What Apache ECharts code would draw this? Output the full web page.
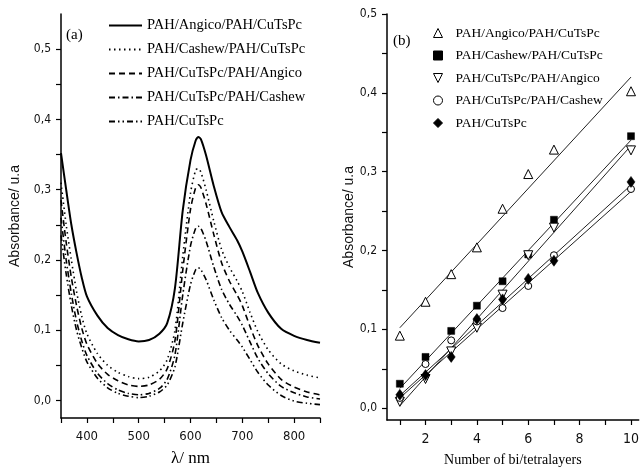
<!DOCTYPE html>
<html><head><meta charset="utf-8">
<script src="https://cdn.jsdelivr.net/npm/echarts@6/dist/echarts.min.js"></script>
<style>html,body{margin:0;padding:0;background:#fff}#c{width:642px;height:472px}</style>
</head><body><div id="c"></div>
<script>
// ---- Panel (a): UV-vis spectra ----
const wavelengths = [350,360,370,380,390,400,420,440,460,480,500,520,540,555,570,585,600,610,615,620,630,645,660,675,690,700,715,730,750,775,800,825,850];
const specAngicoPAH = [0.352,0.300,0.250,0.210,0.175,0.148,0.121,0.103,0.093,0.087,0.084,0.086,0.095,0.110,0.160,0.270,0.342,0.370,0.375,0.372,0.349,0.305,0.268,0.247,0.228,0.212,0.183,0.153,0.125,0.102,0.092,0.086,0.082];
const specCashewPAH = [0.310,0.250,0.200,0.155,0.120,0.095,0.067,0.050,0.040,0.034,0.031,0.033,0.042,0.058,0.100,0.205,0.295,0.328,0.330,0.325,0.300,0.255,0.215,0.190,0.170,0.155,0.125,0.098,0.072,0.052,0.042,0.036,0.032];
const specCuAngico = [0.285,0.225,0.175,0.135,0.103,0.080,0.053,0.037,0.028,0.022,0.020,0.022,0.030,0.045,0.085,0.185,0.272,0.303,0.307,0.303,0.280,0.236,0.196,0.170,0.150,0.135,0.105,0.078,0.052,0.030,0.019,0.012,0.008];
const specCuCashew = [0.260,0.200,0.152,0.113,0.085,0.064,0.039,0.024,0.015,0.010,0.008,0.010,0.017,0.030,0.065,0.150,0.220,0.245,0.248,0.245,0.227,0.190,0.158,0.137,0.120,0.107,0.083,0.060,0.038,0.020,0.011,0.005,0.002];
const specCuTsPc = [0.235,0.180,0.135,0.100,0.075,0.055,0.032,0.018,0.010,0.006,0.004,0.006,0.012,0.022,0.048,0.110,0.165,0.186,0.189,0.186,0.172,0.143,0.118,0.100,0.086,0.076,0.058,0.040,0.022,0.007,-0.001,-0.004,-0.006];
const specNames = ['PAH/Angico/PAH/CuTsPc','PAH/Cashew/PAH/CuTsPc','PAH/CuTsPc/PAH/Angico','PAH/CuTsPc/PAH/Cashew','PAH/CuTsPc'];
const xTicksA = [350,400,450,500,550,600,650,700,750,800,850];
const xLabelsA = [400,500,600,700,800];
const yTicksA = [0,0.05,0.1,0.15,0.2,0.25,0.3,0.35,0.4,0.45,0.5];
const yLabelsA = [0,0.1,0.2,0.3,0.4,0.5];

// ---- Panel (b): absorbance vs number of layers ----
const layers = [1,2,3,4,5,6,7,10];
const absAngicoPAH = [0.092,0.135,0.170,0.204,0.253,0.297,0.328,0.402];
const absCashewPAH = [0.031,0.065,0.098,0.130,0.161,0.195,0.239,0.345];
const absCuAngico = [0.008,0.037,0.072,0.102,0.144,0.194,0.229,0.327];
const absCuCashew = [0.013,0.056,0.086,0.110,0.127,0.155,0.194,0.278];
const absCuTsPc = [0.017,0.042,0.065,0.113,0.138,0.164,0.187,0.287];
const fitX = [1,10];
const fitAngicoPAH = [0.102,0.420];
const fitCashewPAH = [0.025,0.340];
const fitCuAngico = [0.003,0.333];
const fitCuCashew = [0.013,0.275];
const fitCuTsPc = [0.016,0.283];
const xTicksB = [1,2,3,4,5,6,7,8,9,10];
const xLabelsB = [2,4,6,8,10];
const yTicksB = [0,0.05,0.1,0.15,0.2,0.25,0.3,0.35,0.4,0.45,0.5];
const yLabelsB = [0,0.1,0.2,0.3,0.4,0.5];

const narrow = "'Liberation Sans Narrow','DejaVu Sans Condensed',sans-serif";
const serif = "'Liberation Serif','DejaVu Serif',serif";
const fmt = v => (Math.round(v*10)/10).toFixed(1).replace('.', ',');
const zw = '\u200B';

const specData = [specAngicoPAH, specCashewPAH, specCuAngico, specCuCashew, specCuTsPc];
const dashTypes = ['solid', [1.5,3.5], [6,4], [6,3,1.5,3], [6,3,1.5,3,1.5,3]];
const specWidths = [2, 1.6, 1.6, 1.6, 1.6];

const pointData = [absAngicoPAH, absCashewPAH, absCuAngico, absCuCashew, absCuTsPc];
const fitData = [fitAngicoPAH, fitCashewPAH, fitCuAngico, fitCuCashew, fitCuTsPc];
const symbols = ['triangle','rect','path://M0,0 L10,0 L5,10 Z','circle','diamond'];
const symSizes = [9, 7, 9, 7, [8,11]];
const fills = ['#fff','#000','#fff','#fff','#000'];

function axisCommon(){
  return {
    axisLine:{show:true, onZero:false, lineStyle:{color:'#000', width:1.5}},
    splitLine:{show:false},
  };
}

const series = [];
specData.forEach((arr,i)=>{
  series.push({
    name: specNames[i], type:'line', xAxisIndex:0, yAxisIndex:0,
    data: wavelengths.map((w,k)=>[w, arr[k]]),
    showSymbol:false, symbol:'none', smooth:0.25,
    lineStyle:{color:'#000', width:specWidths[i], type:dashTypes[i]},
    itemStyle:{color:'#000'}, silent:true, animation:false
  });
});
pointData.forEach((arr,i)=>{
  series.push({
    name: 'fit-'+i, type:'line', xAxisIndex:1, yAxisIndex:1,
    data: fitX.map((x,k)=>[x, fitData[i][k]]),
    showSymbol:false, symbol:'none',
    lineStyle:{color:'#222', width:1}, itemStyle:{color:'#222'}, silent:true, animation:false, z:1
  });
});
pointData.forEach((arr,i)=>{
  series.push({
    name: specNames[i]+zw, type:'scatter', xAxisIndex:1, yAxisIndex:1,
    data: layers.map((x,k)=>[x, arr[k]]),
    symbol: symbols[i], symbolSize: symSizes[i],
    itemStyle:{color:fills[i], borderColor:'#000', borderWidth: fills[i]==='#fff'?1:0.5, opacity:1},
    silent:true, animation:false, z:3
  });
});

const option = {
  animation:false,
  backgroundColor:'#fff',
  grid:[
    {left:61, top:14, width:259, height:408},
    {left:387, top:14, width:254, height:409}
  ],
  xAxis:[
    Object.assign(axisCommon(), {
      type:'value', gridIndex:0, min:350, max:850,
      axisTick:{show:true, customValues:xTicksA, length:5, lineStyle:{color:'#000', width:1.2}},
      axisLabel:{customValues:xLabelsA, margin:12, fontFamily:narrow, fontSize:13, color:'#111'},
      name:'λ/ nm', nameLocation:'middle', nameGap:32,
      nameTextStyle:{fontFamily:serif, fontSize:17, color:'#000'}
    }),
    Object.assign(axisCommon(), {
      type:'value', gridIndex:1, min:0.5, max:10.3,
      axisTick:{show:true, customValues:xTicksB, length:5, lineStyle:{color:'#000', width:1.2}},
      axisLabel:{customValues:xLabelsB, margin:12, fontFamily:narrow, fontSize:14, color:'#111'},
      name:'Number of bi/tetralayers', nameLocation:'middle', nameGap:33,
      nameTextStyle:{fontFamily:serif, fontSize:14, color:'#000'}
    })
  ],
  yAxis:[
    Object.assign(axisCommon(), {
      type:'value', gridIndex:0, min:-0.025, max:0.55,
      axisTick:{show:true, customValues:yTicksA, length:5, lineStyle:{color:'#000', width:1.2}},
      axisLabel:{customValues:yLabelsA, margin:10, fontFamily:narrow, fontSize:12, color:'#111', formatter:fmt},
      name:'Absorbance/ u.a', nameLocation:'middle', nameGap:39,
      nameTextStyle:{fontFamily:"'Liberation Sans',sans-serif", fontSize:14, color:'#111'}
    }),
    Object.assign(axisCommon(), {
      type:'value', gridIndex:1, min:-0.015, max:0.5,
      axisTick:{show:true, customValues:yTicksB, length:5, lineStyle:{color:'#000', width:1.2}},
      axisLabel:{customValues:yLabelsB, margin:10, fontFamily:narrow, fontSize:12, color:'#111', formatter:fmt},
      name:'Absorbance/ u.a', nameLocation:'middle', nameGap:25,
      nameTextStyle:{fontFamily:"'Liberation Sans',sans-serif", fontSize:14, color:'#111'}
    })
  ],
  legend:[
    {
      data: specNames, orient:'vertical', left:103, top:13,
      itemWidth:33, itemHeight:14, itemGap:9, selectedMode:false,
      itemStyle:{color:'rgba(0,0,0,0)', borderColor:'rgba(0,0,0,0)', borderWidth:0},
      textStyle:{fontFamily:serif, fontSize:14.5, color:'#000'}
    },
    {
      data: specNames.map(n=>n+zw), orient:'vertical', left:428, top:21,
      itemWidth:9, itemHeight:9, itemGap:8.5, selectedMode:false,
      itemStyle:{borderWidth:1},
      textStyle:{fontFamily:serif, fontSize:13.5, color:'#000', padding:[0,0,0,8]}
    }
  ],
  graphic:[
    {type:'text', left:66, top:28, style:{text:'(a)', font:"15px 'Liberation Serif',serif", fill:'#000'}},
    {type:'text', left:393, top:34, style:{text:'(b)', font:"15px 'Liberation Serif',serif", fill:'#000'}}
  ],
  series: series
};
const chart = echarts.init(document.getElementById('c'), null, {renderer:'canvas'});
chart.setOption(option);
</script>
</body></html>
